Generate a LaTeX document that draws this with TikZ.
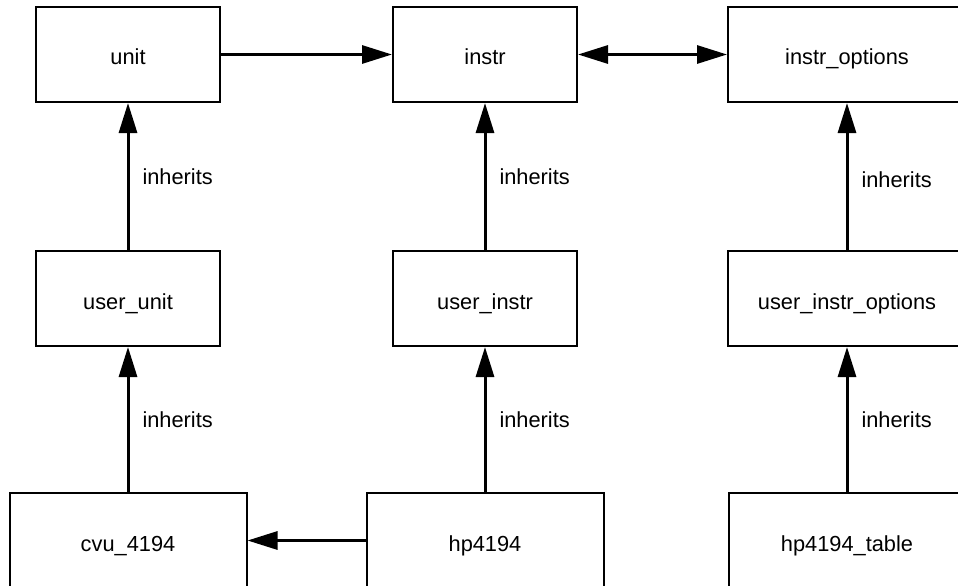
\documentclass[tikz,border=0pt]{standalone}
\usepackage{fontspec}
\setmainfont{Liberation Sans}
\usetikzlibrary{arrows.meta}
\begin{document}
\begin{tikzpicture}[x=1pt,y=-1pt,
  every node/.style={font=\fontsize{21.8pt}{26pt}\selectfont},
  boxbase/.style={draw, line width=2pt, minimum height=95pt, inner sep=0pt, text height=25pt, text depth=4pt},
  topbox/.style={boxbase, minimum width=184pt},
  widebox/.style={boxbase, minimum width=238pt},
  botbox/.style={boxbase, minimum width=237pt},
  conn/.style={line width=3pt, -{Triangle[length=30pt,width=18pt]}},
  biconn/.style={line width=3pt, {Triangle[length=30pt,width=18pt]}-{Triangle[length=30pt,width=18pt]}},
  lbl/.style={midway, right=13pt, inner sep=0pt}]
\useasboundingbox (0,0) rectangle (958,586);
\clip (0,0) rectangle (958,586);
% top row
\node[topbox] (unit) at (128,54.5) {unit};
\node[topbox] (instr) at (485,54.5) {instr};
\node[widebox] (instropt) at (847,54.5) {instr\_options};
% middle row
\node[topbox] (uunit) at (128,298.5) {user\_unit};
\node[topbox] (uinstr) at (485,298.5) {user\_instr};
\node[widebox] (uinstropt) at (847,298.5) {user\_instr\_options};
% bottom row
\node[botbox] (cvu) at (128,540.5) {cvu\_4194};
\node[botbox] (hp) at (485,540.5) {hp4194};
\node[botbox] (hptab) at (847,540.5) {hp4194\_table};
% connectors
\draw[conn] (unit) -- (instr);
\draw[biconn] (instr) -- (instropt);
\draw[conn] (hp) -- (cvu);
\draw[conn] (uunit) -- node[lbl] {inherits} (unit);
\draw[conn] (uinstr) -- node[lbl] {inherits} (instr);
\draw[conn] (uinstropt) -- node[lbl, yshift=-3pt] {inherits} (instropt);
\draw[conn] (cvu) -- node[lbl] {inherits} (uunit);
\draw[conn] (hp) -- node[lbl] {inherits} (uinstr);
\draw[conn] (hptab) -- node[lbl] {inherits} (uinstropt);
\end{tikzpicture}
\end{document}
